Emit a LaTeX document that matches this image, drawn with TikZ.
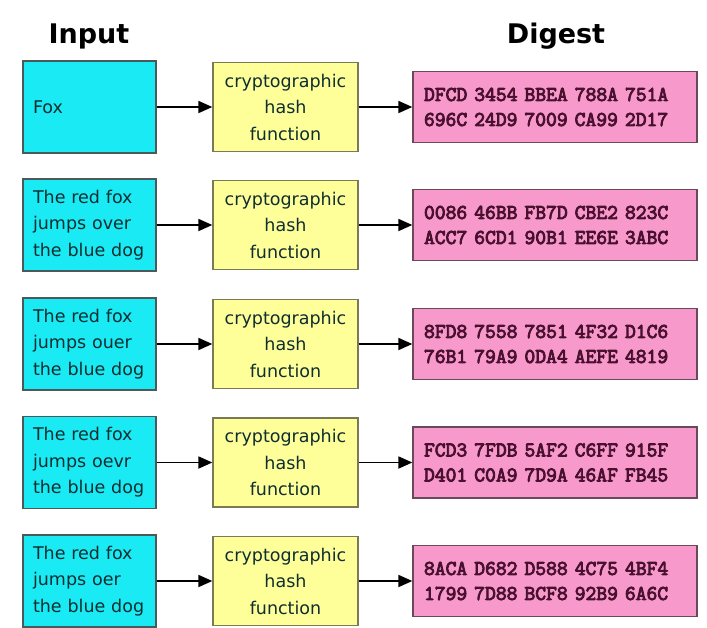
\documentclass[tikz,border=0pt]{standalone}
\usepackage{fontspec}
\setmainfont{DejaVu Sans}
\newfontfamily\hexfont[FakeBold=4]{Latin Modern Mono}
\usetikzlibrary{arrows.meta}
\definecolor{cyanfill}{HTML}{1AEAF4}
\definecolor{yellowfill}{HTML}{FFFF99}
\definecolor{pinkfill}{HTML}{F79ACB}
\definecolor{boxline}{HTML}{4A5A5A}
\definecolor{yline}{HTML}{7A7A55}
\definecolor{pline}{HTML}{6A4A5A}
\definecolor{intext}{HTML}{0E2E30}
\definecolor{hextext}{HTML}{4A1030}
\tikzset{
  inbox/.style={draw=boxline, line width=1.3pt, fill=cyanfill, minimum width=133pt, minimum height=92pt,
    text width=113pt, inner xsep=10pt, align=left, text=intext, font=\fontsize{17.5}{26.5}\selectfont},
  hashbox/.style={draw=yline, line width=1.3pt, fill=yellowfill, minimum width=145pt, minimum height=89pt,
    align=center, text=intext, font=\fontsize{17.5}{26.5}\selectfont},
  digbox/.style={draw=pline, line width=1.3pt, fill=pinkfill, minimum width=284pt, minimum height=71pt,
    text width=262pt, inner xsep=11pt, align=left, text=hextext, font=\hexfont\fontsize{21}{25}\selectfont},
  title/.style={font=\bfseries\fontsize{27}{30}\selectfont, text=black},
  flow/.style={-{Triangle[length=14pt,width=12pt]}, line width=1.8pt, black}
}
\begin{document}
\begin{tikzpicture}[x=1pt,y=-1pt]
\useasboundingbox[fill=white] (0,0) rectangle (707,627);
\node[title] (tin) at (89,36) {Input};
\node[title] (tdig) at (556,36) {Digest};

\foreach \i/\y/\txt/\hexa/\hexb in {
  1/107/{Fox}/{DFCD 3454 BBEA 788A 751A}/{696C 24D9 7009 CA99 2D17},
  2/225/{The red fox\\jumps over\\the blue dog}/{0086 46BB FB7D CBE2 823C}/{ACC7 6CD1 90B1 EE6E 3ABC},
  3/344/{The red fox\\jumps ouer\\the blue dog}/{8FD8 7558 7851 4F32 D1C6}/{76B1 79A9 0DA4 AEFE 4819},
  4/462.5/{The red fox\\jumps oevr\\the blue dog}/{FCD3 7FDB 5AF2 C6FF 915F}/{D401 C0A9 7D9A 46AF FB45},
  5/581/{The red fox\\jumps oer\\the blue dog}/{8ACA D682 D588 4C75 4BF4}/{1799 7D88 BCF8 92B9 6A6C}} {
  \node[inbox] (in\i) at (89.5,\y) {\txt};
  \node[hashbox] (h\i) at (285.5,\y) {cryptographic\\hash\\function};
  \node[digbox] (d\i) at (555,\y) {\hexa\\\hexb};
  \draw[flow] (in\i) -- (h\i);
  \draw[flow] (h\i) -- (d\i);
}
\end{tikzpicture}
\end{document}
